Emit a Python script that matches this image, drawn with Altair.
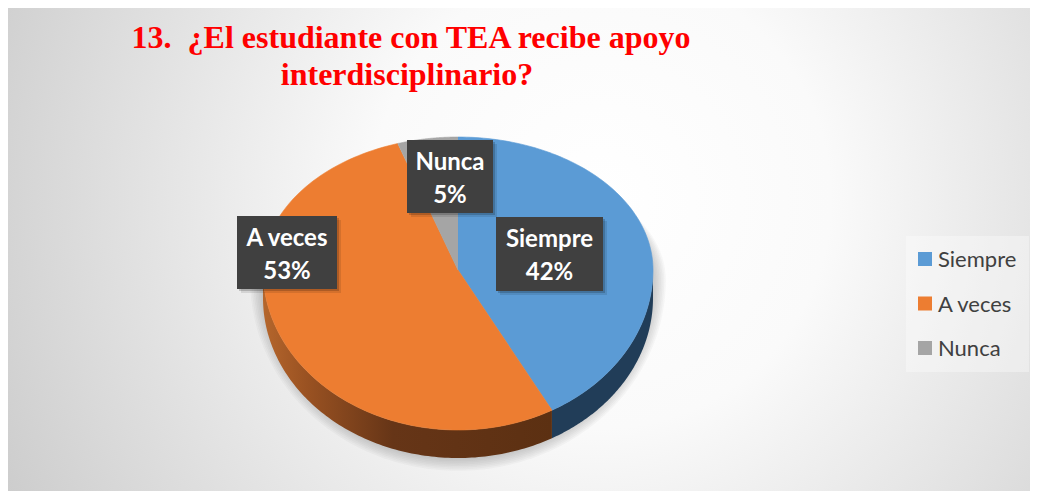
import altair as alt
import pandas as pd

# ---------------- data ----------------
categories = ["Siempre", "A veces", "Nunca"]
percentages = [42, 53, 5]
top_colors = ["#5B9BD5", "#ED7D31", "#A5A5A5"]
title_lines = ["13.\u00a0 ¿El estudiante con TEA recibe apoyo", "interdisciplinario?"]

# ---------------- layout (page pixel coordinates) ----------------
W, H = 1022, 483
OX, OY = 8, 8
CX, CY, RX, RYT, RYB, DEPTH = 458, 270, 195, 133, 160, 28
N = 120

box_layout = {  # centre x, centre y, width, height of the data-label boxes
    "Siempre": (549.5, 254, 107, 74),
    "A veces": (287, 252.5, 100, 73),
    "Nunca": (450, 176.5, 86, 73),
}
title_pos = [(411, 48), (407, 85)]
legend_box = (906, 236, 1029, 372)
legend_x, legend_y0, legend_step = 925, 259, 44.5

brown_side = alt.LinearGradient(
    gradient="linear", x1=0, x2=1, y1=0, y2=0,
    stops=[alt.GradientStop(offset=0, color="#B5662C"),
           alt.GradientStop(offset=0.15, color="#9A5222"),
           alt.GradientStop(offset=0.45, color="#663517"),
           alt.GradientStop(offset=1, color="#5C3012")])
side_fills = ["#213D58", brown_side, "#5A5A5A"]


def X(f):
    return alt.X(f"{f}:Q", scale=alt.Scale(domain=[OX, OX + W], nice=False, zero=False), axis=None)


def Y(f):
    return alt.Y(f"{f}:Q", scale=alt.Scale(domain=[OY, OY + H], nice=False, zero=False, reverse=True), axis=None)


df = pd.DataFrame({"cat": categories, "pct": percentages, "ord": list(range(len(categories)))})


def slices():
    return (alt.Chart(df)
            .transform_joinaggregate(total="sum(pct)")
            .transform_window(cum="sum(pct)", sort=[alt.SortField("ord", order="ascending")], frame=[None, 0])
            .transform_calculate(a0="2*PI*(datum.cum - datum.pct)/datum.total")
            .transform_calculate(a1="2*PI*datum.cum/datum.total"))


def ell_y(t):
    return f"{CY} - (cos({t}) > 0 ? {RYT} : {RYB}) * cos({t})"


layers = []

# background
bg = alt.RadialGradient(
    gradient="radial", x1=0.58, y1=0.45, r1=0, x2=0.58, y2=0.45, r2=0.75,
    stops=[alt.GradientStop(offset=0, color="#FFFFFF"),
           alt.GradientStop(offset=0.3, color="#FAFAFA"),
           alt.GradientStop(offset=1, color="#C2C2C2")])
layers.append(alt.Chart(pd.DataFrame({"a": [0]})).mark_rect(fill=bg).encode(
    x=alt.value(0), x2=alt.value(W), y=alt.value(0), y2=alt.value(H)))

# soft shadow under the pie
shadow = (alt.Chart(alt.sequence(0, 9, as_="k"))
          .transform_calculate(i=f"sequence(0, {2 * N + 1})")
          .transform_flatten(["i"])
          .transform_calculate(t=f"2*PI*datum.i/{2 * N}")
          .transform_calculate(x=f"{CX} + ({RX} + 1.6*datum.k)*sin(datum.t)")
          .transform_calculate(y=f"{CY + 10} - (cos(datum.t) > 0 ? {RYT - 10} : ({RYB + DEPTH - 10} + 1.6*datum.k))*cos(datum.t)")
          .mark_line(fill="#6E6E6E", fillOpacity=0.05, strokeOpacity=0, strokeWidth=0)
          .encode(x=X("x"), y=Y("y"), order=alt.Order("i:Q"), detail="k:N"))
layers.append(shadow)

# side walls
for cat, sf in zip(categories, side_fills):
    side = (slices()
            .transform_filter(alt.datum.cat == cat)
            .transform_calculate(s0="max(datum.a0, PI/2)")
            .transform_calculate(s1="min(datum.a1, 3*PI/2)")
            .transform_filter("datum.s1 > datum.s0")
            .transform_calculate(i=f"sequence(0, {2 * N + 2})")
            .transform_flatten(["i"])
            .transform_calculate(j=f"datum.i <= {N} ? datum.i : {2 * N + 1} - datum.i")
            .transform_calculate(t=f"datum.s0 + (datum.s1 - datum.s0)*datum.j/{N}")
            .transform_calculate(x=f"{CX} + {RX}*sin(datum.t)")
            .transform_calculate(y=f"{CY} - {RYB}*cos(datum.t) + (datum.i > {N} ? {DEPTH} : 0)")
            .mark_line(fill=sf, strokeOpacity=0, strokeWidth=0)
            .encode(x=X("x"), y=Y("y"), order=alt.Order("i:Q")))
    layers.append(side)

# top surfaces
for cat, col in zip(categories, top_colors):
    top = (slices()
           .transform_filter(alt.datum.cat == cat)
           .transform_calculate(i=f"sequence(-1, {N + 1})")
           .transform_flatten(["i"])
           .transform_calculate(t=f"datum.a0 + (datum.a1 - datum.a0)*max(datum.i, 0)/{N}")
           .transform_calculate(x=f"datum.i < 0 ? {CX} : {CX} + {RX}*sin(datum.t)")
           .transform_calculate(y=f"datum.i < 0 ? {CY} : " + ell_y("datum.t"))
           .mark_line(fill=col, stroke=col, strokeWidth=0.6, strokeJoin="round")
           .encode(x=X("x"), y=Y("y"), order=alt.Order("i:Q")))
    layers.append(top)

# data labels
lab = df.copy()
lab["bx"] = [box_layout[c][0] for c in categories]
lab["by"] = [box_layout[c][1] for c in categories]
lab["bw"] = [box_layout[c][2] for c in categories]
lab["bh"] = [box_layout[c][3] for c in categories]
lab_base = (alt.Chart(lab)
            .transform_calculate(x0="datum.bx - datum.bw/2", x1="datum.bx + datum.bw/2",
                                 y0="datum.by - datum.bh/2", y1="datum.by + datum.bh/2",
                                 l1="datum.by - 7", l2="datum.by + 26",
                                 ptxt="datum.pct + '%'"))
for off, op in [(4, 0.10), (2, 0.18)]:
    layers.append(lab_base.transform_calculate(sx0=f"datum.x0 + {off}", sx1=f"datum.x1 + {off}",
                                               sy0=f"datum.y0 + {off}", sy1=f"datum.y1 + {off}")
                  .mark_rect(color="#000000", opacity=op)
                  .encode(x=X("sx0"), x2="sx1:Q", y=Y("sy0"), y2="sy1:Q"))
layers.append(lab_base.mark_rect(color="#404040").encode(x=X("x0"), x2="x1:Q", y=Y("y0"), y2="y1:Q"))
txt_style = dict(font="Lato", fontWeight="bold", fontSize=24, color="#FFFFFF", align="center", baseline="alphabetic")
layers.append(lab_base.mark_text(**txt_style).encode(x=X("bx"), y=Y("l1"), text="cat:N"))
layers.append(lab_base.mark_text(**txt_style).encode(x=X("bx"), y=Y("l2"), text="ptxt:N"))

# title
tdf = pd.DataFrame({"line": title_lines, "tx": [p[0] for p in title_pos], "ty": [p[1] for p in title_pos]})
layers.append(alt.Chart(tdf).mark_text(font="Liberation Serif", fontWeight="bold", fontSize=32,
                                       color="#FF0000", align="center", baseline="alphabetic")
              .encode(x=X("tx"), y=Y("ty"), text="line:N"))

# legend
ldf = pd.DataFrame({"cat": categories, "ord": list(range(len(categories)))})
lbox = pd.DataFrame({"x0": [legend_box[0]], "y0": [legend_box[1]], "x1": [legend_box[2]], "y1": [legend_box[3]]})
layers.append(alt.Chart(lbox).mark_rect(color="#FFFFFF", opacity=0.35)
              .encode(x=X("x0"), x2="x1:Q", y=Y("y0"), y2="y1:Q"))
leg = (alt.Chart(ldf)
       .transform_calculate(ly=f"{legend_y0} + {legend_step}*datum.ord")
       .transform_calculate(sx0=f"{legend_x - 7}", sx1=f"{legend_x + 7}",
                            sy0="datum.ly - 7", sy1="datum.ly + 7",
                            tx=f"{legend_x + 13}", ty="datum.ly + 8"))
layers.append(leg.mark_rect().encode(
    x=X("sx0"), x2="sx1:Q", y=Y("sy0"), y2="sy1:Q",
    color=alt.Color("cat:N", scale=alt.Scale(domain=categories, range=top_colors), legend=None)))
layers.append(leg.mark_text(font="Lato", fontSize=22, color="#404040", align="left", baseline="alphabetic")
              .encode(x=X("tx"), y=Y("ty"), text="cat:N"))

chart = (alt.layer(*layers)
         .properties(width=W, height=H, padding=0, autosize=alt.AutoSizeParams(type="none"))
         .configure_view(stroke=None))

chart.save("out.html", embed_options={"renderer": "svg", "actions": False})
